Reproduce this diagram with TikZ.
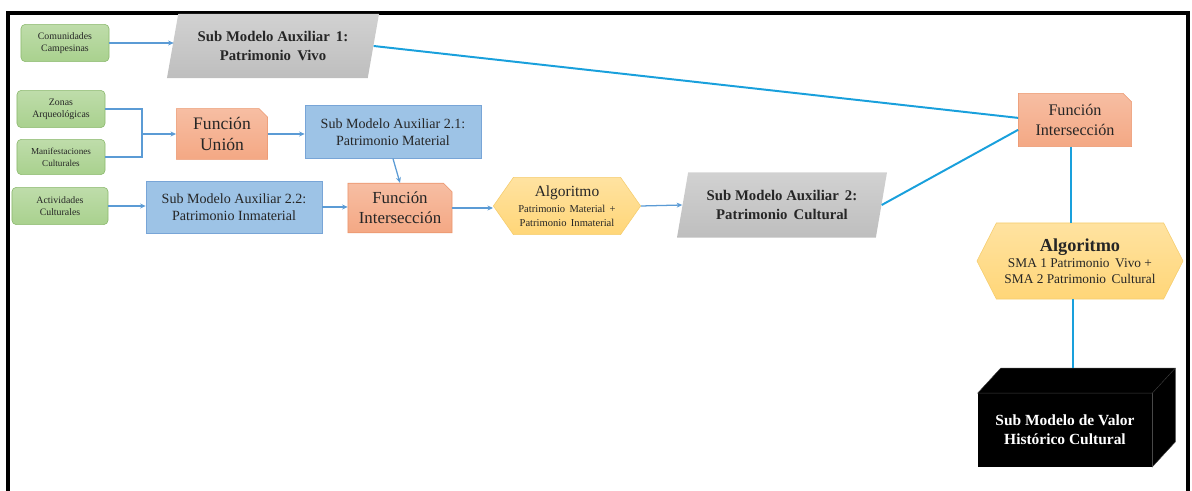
\documentclass[tikz,border=0pt]{standalone}
\usepackage{fontspec}
\setmainfont{Liberation Serif}
\newfontfamily\tnr{Liberation Serif}
\usepackage{tikz}
\usetikzlibrary{shapes.geometric, shapes.misc, shapes.symbols, arrows.meta, positioning, calc}
\definecolor{mygreen}{RGB}{140,185,110}
\definecolor{hdrgreen}{RGB}{169,209,142}
\definecolor{myblue}{RGB}{120,165,215}
\definecolor{hdrblue}{RGB}{157,195,230}
\definecolor{myorange}{RGB}{235,150,110}
\definecolor{hdrorange}{RGB}{244,168,132}
\definecolor{myamber}{RGB}{245,205,110}
\definecolor{hdramber}{RGB}{255,214,120}
\definecolor{hdrgray}{RGB}{190,190,190}
\definecolor{myarrow}{RGB}{91,155,213}
\definecolor{mycyan}{RGB}{25,160,220}
\definecolor{mytext}{RGB}{38,38,38}
\tikzset{
  inbox/.style={rectangle, draw=mygreen, top color=hdrgreen!75, bottom color=hdrgreen,
    rounded corners=3pt, minimum width=2.2cm, minimum height=0.93cm, align=center,
    font=\tnr\fontsize{7}{8.5}\selectfont, text=mytext, line width=0.4pt},
  submod/.style={trapezium, trapezium stretches=true, trapezium left angle=76,
    trapezium right angle=104, top color=hdrgray!70, bottom color=hdrgray,
    minimum width=5.3cm, minimum height=1.6cm, align=center, text=mytext,
    font=\tnr\bfseries\fontsize{10.5}{13}\selectfont},
  funcbox/.style={chamfered rectangle, chamfered rectangle corners=north east,
    chamfered rectangle xsep=3pt, draw=myorange, top color=hdrorange!75,
    bottom color=hdrorange, align=center, text=mytext, line width=0.4pt},
  bluebox/.style={rectangle, draw=myblue, fill=hdrblue, minimum width=4.4cm,
    minimum height=1.32cm, align=center, text=mytext, line width=0.4pt,
    font=\tnr\fontsize{10}{12.5}\selectfont},
  algo/.style={signal, signal to=west and east, draw=myamber,
    top color=hdramber!70, bottom color=hdramber, align=center, text=mytext,
    line width=0.4pt},
  arrow/.style={-{Stealth[length=4pt, width=3.5pt]}, line width=0.9pt, color=myarrow},
  line/.style={line width=1.4pt, color=mycyan}
}

\begin{document}
\tnr
\begin{tikzpicture}[x=0.025cm, y=-0.025cm]
  \useasboundingbox (0,0) rectangle (1192,491);
  % Frame
  \draw[line width=2.2pt] (8,491) -- (8,13) -- (1188,13) -- (1188,491);

  % Inputs
  \node[inbox] (com) at (65,43) {Comunidades\\Campesinas};
  \node[inbox] (zon) at (61,109) {Zonas\\Arqueológicas};
  \node[inbox, minimum height=0.88cm, font=\tnr\fontsize{6.5}{8.5}\selectfont] (man) at (61,157) {Manifestaciones\\Culturales};
  \node[inbox, minimum width=2.4cm] (act) at (60,206) {Actividades\\Culturales};

  % Sub models
  \node[submod] (sma1) at (273,46) {Sub Modelo Auxiliar\, 1:\\Patrimonio\, Vivo};
  \node[funcbox, minimum width=2.28cm, minimum height=1.05cm, font=\tnr\fontsize{12.5}{14.5}\selectfont] (union) at (222,134) {Función\\Unión};
  \node[bluebox] (sm21) at (393,132) {Sub Modelo Auxiliar 2.1:\\Patrimonio Material};
  \node[bluebox, minimum height=1.3cm] (sm22) at (234,207) {Sub Modelo Auxiliar 2.2:\\Patrimonio Inmaterial};
  \node[funcbox, minimum width=2.6cm, minimum height=1.1cm, font=\tnr\fontsize{12}{14}\selectfont] (intm) at (400,208) {Función\\Intersección};
  \node[algo, minimum width=3.68cm, minimum height=1.43cm, signal pointer angle=110] (algm) at (567,206)
    {{\fontsize{11}{12}\selectfont Algoritmo}\\[-1pt]{\fontsize{7.5}{8.5}\selectfont Patrimonio\, Material\, +}\\[-2pt]{\fontsize{7.5}{8.5}\selectfont Patrimonio\, Inmaterial}};
  \node[submod, minimum width=5.25cm, minimum height=1.63cm] (sma2) at (782,205) {Sub Modelo Auxiliar\, 2:\\Patrimonio\, Cultural};

  % Right column
  \node[funcbox, minimum width=2.83cm, minimum height=1.33cm, font=\tnr\fontsize{11.5}{14}\selectfont] (intr) at (1075,120) {Función\\Intersección};
  \node[algo, minimum width=5.15cm, minimum height=1.9cm, signal pointer angle=126] (algr) at (1080,261)
    {{\bfseries\fontsize{13}{14}\selectfont Algoritmo}\\{\fontsize{9.5}{11}\selectfont SMA 1 Patrimonio\, Vivo +}\\[-1pt]{\fontsize{9.5}{11}\selectfont SMA 2 Patrimonio\, Cultural}};
  \node[rectangle, fill=black, minimum width=4.35cm, minimum height=1.83cm, align=center, text=white,
    font=\tnr\bfseries\fontsize{11}{13.5}\selectfont] (vhc) at (1065,430) {Sub Modelo de Valor\\Histórico Cultural};
  \fill[black, draw=black!75, line width=0.3pt] (vhc.north west) -- ($(vhc.north west)+(23,-25)$) coordinate (tbl)
    -- ($(vhc.north east)+(23,-25)$) -- ($(vhc.south east)+(23,-25)$) -- (vhc.south east) -- (vhc.north east) -- cycle;
  \draw[black!75, line width=0.3pt] (vhc.north east) -- ($(vhc.north east)+(23,-25)$);

  % Arrows
  \draw[arrow] (com.east) -- ([xshift=1pt]com.east -| sma1.west);
  \coordinate (jz) at (142,134);
  \draw[myarrow, line width=0.9pt] (zon.east) -| (jz) |- (man.east);
  \draw[arrow] (jz) -- (union.west);
  \draw[arrow] (union.east) -- (union.east -| sm21.west);
  \draw[arrow] (sm21.south) -- (intm.north);
  \draw[arrow] (act.east) -- (act.east -| sm22.west);
  \draw[arrow] (sm22.east) -- (sm22.east -| intm.west);
  \draw[arrow] (intm.east) -- (intm.east -| algm.west);
  \draw[arrow] (algm.east) -- (sma2.west);

  % Lines
  \draw[line] (sma1.east) -- ([yshift=1.5pt]intr.west);
  \draw[line] (sma2.east) -- ([yshift=-7pt]intr.west);
  \draw[line] ([xshift=-3pt]intr.south) -- ([xshift=-3pt]intr.south |- algr.north);
  \draw[line] ([xshift=-5pt]algr.south) -- ([xshift=-5pt]algr.south |- tbl);
\end{tikzpicture}
\end{document}
